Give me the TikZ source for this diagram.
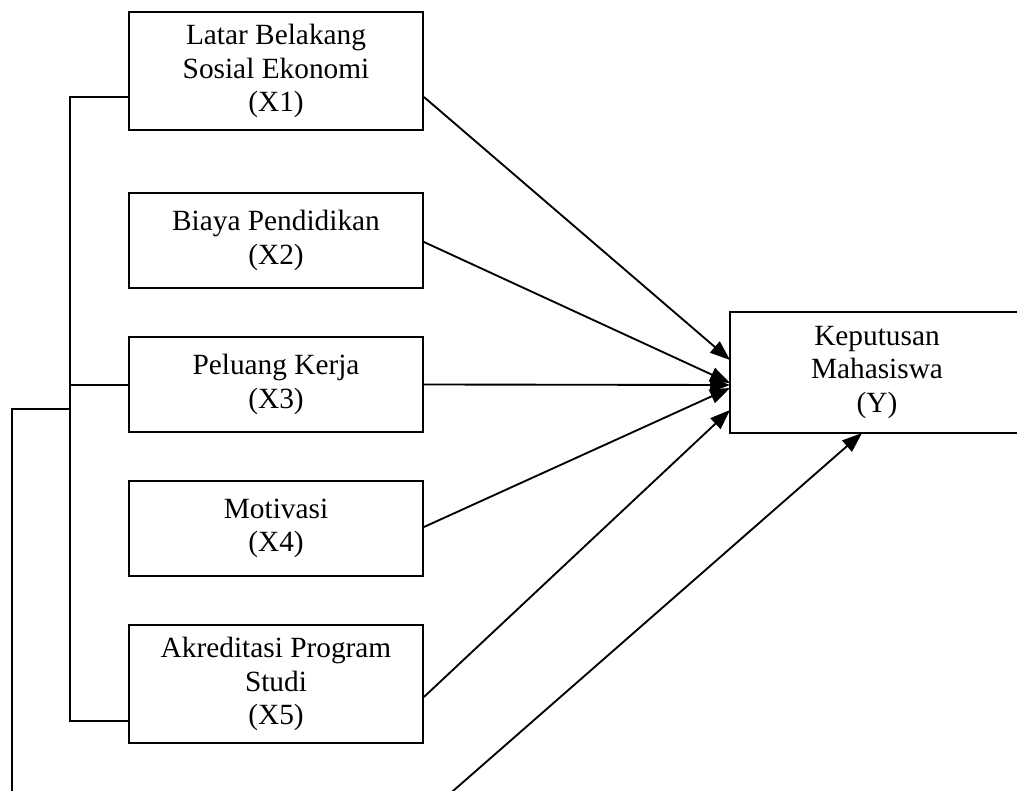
\documentclass[tikz,border=0pt]{standalone}
\usepackage{fontspec}
\setmainfont{Liberation Serif}
\usetikzlibrary{arrows.meta,calc}
\begin{document}
\begin{tikzpicture}[x=0.75pt,y=-0.75pt,
  box/.style={draw,line width=1.4pt,align=center,inner sep=0pt,
    font=\fontsize{22}{25}\selectfont,minimum width=220.5pt},
  conn/.style={line width=1.4pt},
  arr/.style={conn,-{Triangle[length=15pt,width=11pt]}}]
\useasboundingbox (0,0) rectangle (1017,791);
\clip (0,0) rectangle (1017,791);
% boxes
\node[box,minimum height=88.5pt] (X1) at (276,71) {Latar Belakang\\Sosial Ekonomi\\(X1)};
\node[box,minimum height=71.25pt] (X2) at (276,240.5) {Biaya Pendidikan\\(X2)};
\node[box,minimum height=71.25pt] (X3) at (276,384.5) {Peluang Kerja\\(X3)};
\node[box,minimum height=71.25pt] (X4) at (276,528.5) {Motivasi\\(X4)};
\node[box,minimum height=88.5pt] (X5) at (276,684) {Akreditasi Program\\Studi\\(X5)};
\node[box,minimum height=90.75pt] (Y) at (877,372.5) {Keputusan\\Mahasiswa\\(Y)};
% arrow end points on Y
\coordinate (y1) at (730,360);
\coordinate (y2) at (730,383);
\coordinate (y3) at (730,385);
\coordinate (y4) at (730,388);
\coordinate (y5) at (730,410);
\coordinate (yb) at (862,433);
% arrow start points
\coordinate (a1) at (423,97);
\coordinate (a2) at (423,242);
\coordinate (a4) at (423,527);
\coordinate (a5) at (423,697);
\draw[arr] (X1.east |- a1) -- (y1);
\draw[arr] (X2.east |- a2) -- (y2);
\draw[arr] (X3.east) -- (y3);
\draw[arr] (X4.east |- a4) -- (y4);
\draw[arr] (X5.east |- a5) -- (y5);
% bracket
\coordinate (b1) at (70,97);
\coordinate (b3) at (70,385);
\coordinate (bm) at (70,409);
\coordinate (b5) at (70,721);
\coordinate (l1) at (12,409);
\coordinate (l2) at (12,795);
\coordinate (s) at (453,791);
\draw[conn] (X1.west |- b1) -- (b1) -- (b5) -- (X5.west |- b5);
\draw[conn] (b3) -- (X3.west |- b3);
\draw[conn] (bm) -- (l1) -- (l2);
\draw[arr] ($(s)!-0.02!(yb)$) -- (yb);
\end{tikzpicture}
\end{document}
